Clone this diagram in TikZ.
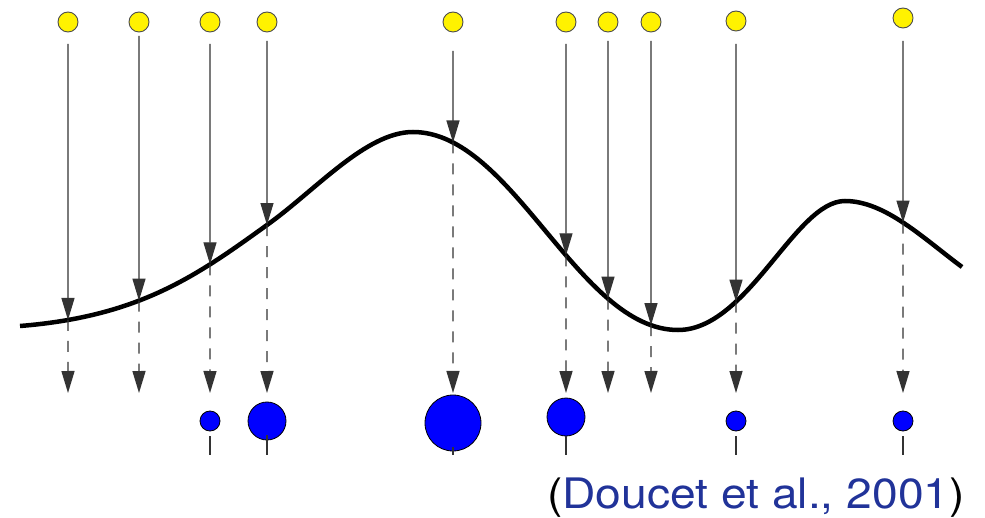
\documentclass[tikz,border=0pt]{standalone}
\usepackage{fontspec}
\setsansfont{TeX Gyre Heros}
\usetikzlibrary{arrows.meta,intersections}
\definecolor{citeblue}{RGB}{33,51,153}
\tikzset{
  particle/.style={circle,draw=black!70,line width=0.9pt,fill=yellow,minimum size=20pt,inner sep=0pt},
  weighted/.style={circle,draw=black,line width=0.8pt,fill=blue,inner sep=0pt},
  solidarrow/.style={draw=black!80,line width=1.2pt,-{Triangle[length=22pt,width=13pt]}},
  dasharrow/.style={draw=black!80,line width=1.4pt,dash pattern=on 11pt off 10pt,-{Triangle[length=22pt,width=13pt]}},
  stem/.style={draw=black!80,line width=1.3pt},
  density/.style={line width=4.5pt}
}
\begin{document}
\begin{tikzpicture}[x=1pt,y=-1pt]
\useasboundingbox (0,0) rectangle (985,518);
% density curve
\draw[density,name path=curve] (20,326)
  .. controls (140,316.4) and (197,275.4) .. (267,225)
  .. controls (316,190) and (366,132) .. (413,132)
  .. controls (513,132) and (578,330) .. (678,330)
  .. controls (748,330) and (795,201) .. (845,201)
  .. controls (885,201) and (923,238) .. (962,267);
% particles, arrows
\foreach \i/\x/\yt/\ys in {1/68/22/44, 2/139/22/36, 3/210/22/44, 4/267/22/41, 5/453/22/51, 6/566/22/44, 7/608/22/41, 8/651/22/41, 9/736/21/44, 10/903/18/41}{
  \node[particle] (p\i) at (\x,\yt) {};
  \coordinate (a\i) at (\x,\ys);
  \path[name path=v\i] (\x,0) -- (\x,518);
  \path[name intersections={of=curve and v\i, by=c\i}];
  \coordinate (t\i) at (\x,393);
  \draw[solidarrow] (a\i) -- (c\i);
  \draw[dasharrow] (c\i) -- (t\i);
}
% weighted particles
\foreach \j/\x/\yc/\r/\ys in {1/210/421/10/436, 2/267/421/19/435, 3/453/423/28/447, 4/566/417/19/436, 5/736/421/10/436, 6/903/421/10/436}{
  \node[weighted,minimum size=2*\r pt] (w\j) at (\x,\yc) {};
  \coordinate (s\j) at (\x,\ys);
  \coordinate (e\j) at (\x,455);
  \draw[stem] (s\j) -- (e\j);
}
% citation
\node[anchor=base east,inner sep=0pt,font=\sffamily\fontsize{42}{46}\selectfont] (cite) at (965,508) {\scalebox{1.1}[1]{(\textcolor{citeblue}{Doucet et al., 2001})}};
\end{tikzpicture}
\end{document}
